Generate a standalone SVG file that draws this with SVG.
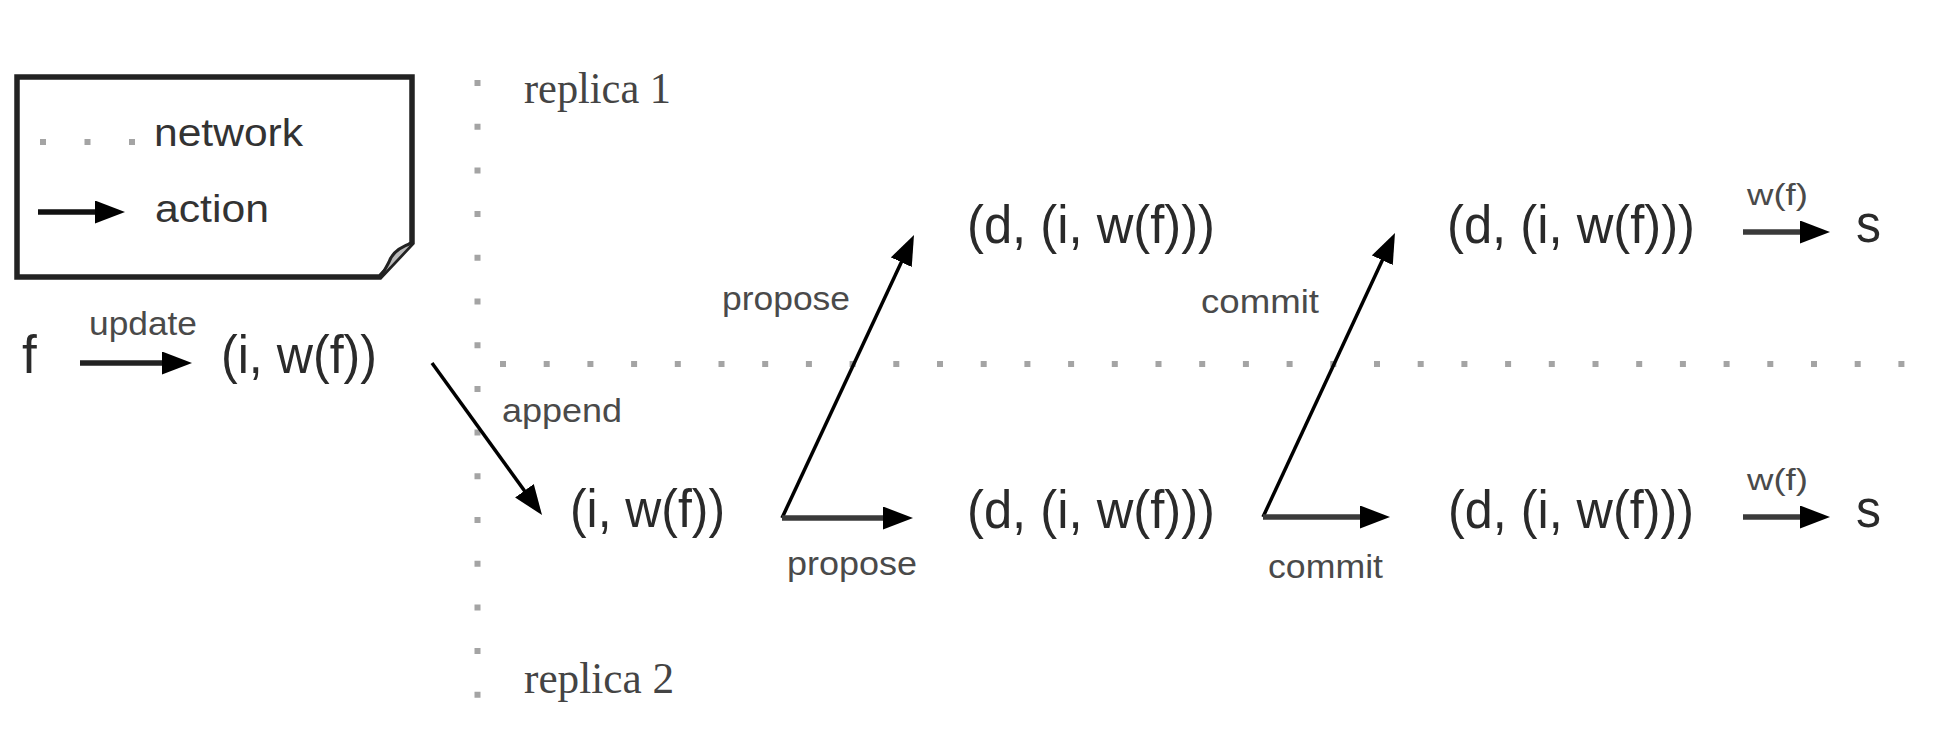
<svg xmlns="http://www.w3.org/2000/svg" width="1936" height="736" viewBox="0 0 1936 736">
<style>
.big{font-family:"Liberation Sans",Arial,sans-serif;font-size:53px;fill:#2a2a2a}
.lbl{font-family:"Liberation Sans",Arial,sans-serif;font-size:33px;fill:#4a4a4a}
.sm{font-family:"Liberation Sans",Arial,sans-serif;font-size:29px;fill:#4a4a4a}
.leg{font-family:"Liberation Sans",Arial,sans-serif;font-size:38px;fill:#333}
.rep{font-family:"Liberation Serif","Times New Roman",serif;font-size:44px;fill:#444}
.net{stroke:#a4a4a4;stroke-width:6;fill:none;stroke-dasharray:6 37.7}
.h{stroke:#3a3a3a;stroke-width:5.5;fill:none;marker-end:url(#ah)}
.d{stroke:#000;stroke-width:3.5;fill:none;marker-end:url(#ah)}
</style>
<defs>
<marker id="ah" markerUnits="userSpaceOnUse" markerWidth="30" markerHeight="23" viewBox="0 0 30 23" refX="17" refY="11.5" orient="auto">
<path d="M0,0 L30,11.5 L0,23 Z" fill="#000"/>
</marker>
</defs>
<rect width="1936" height="736" fill="#fff"/>

<g id="legend">
<path d="M17,77 H412 V243 L380,277 H17 Z" fill="#fff" stroke="#222" stroke-width="5.5"/>
<path d="M412,243 C400,247 392,253 389,262 C386,268 383,273 380,277" fill="#bbb" stroke="#222" stroke-width="3"/>
<line class="net" x1="40" y1="142" x2="136" y2="142" style="stroke-dasharray:6 38.5"/>
<text class="leg" x="154" y="146" textLength="149" lengthAdjust="spacingAndGlyphs">network</text>
<line class="h" x1="38" y1="212" x2="112" y2="212" style="stroke:#111"/>
<text class="leg" x="155" y="222" textLength="114" lengthAdjust="spacingAndGlyphs">action</text>
</g>

<g id="network">
<line class="net" x1="477.5" y1="80" x2="477.5" y2="700"/>
<line class="net" x1="500" y1="364" x2="1905" y2="364"/>
</g>

<g id="replica1-label"><text class="rep" x="524" y="103" textLength="147" lengthAdjust="spacingAndGlyphs">replica 1</text></g>
<g id="replica2-label"><text class="rep" x="524" y="693" textLength="150" lengthAdjust="spacingAndGlyphs">replica 2</text></g>

<g id="client-f"><text class="big" x="22" y="373">f</text></g>
<g id="client-entry"><text class="big" x="221" y="373" textLength="156" lengthAdjust="spacingAndGlyphs">(i, w(f))</text></g>
<g id="r2-entry"><text class="big" x="570" y="527" textLength="155" lengthAdjust="spacingAndGlyphs">(i, w(f))</text></g>
<g id="r1-proposed"><text class="big" x="967" y="243" textLength="248" lengthAdjust="spacingAndGlyphs">(d, (i, w(f)))</text></g>
<g id="r2-proposed"><text class="big" x="967" y="528" textLength="248" lengthAdjust="spacingAndGlyphs">(d, (i, w(f)))</text></g>
<g id="r1-committed"><text class="big" x="1447" y="243" textLength="248" lengthAdjust="spacingAndGlyphs">(d, (i, w(f)))</text></g>
<g id="r2-committed"><text class="big" x="1448" y="528" textLength="246" lengthAdjust="spacingAndGlyphs">(d, (i, w(f)))</text></g>
<g id="r1-state"><text class="big" x="1856" y="242" textLength="25" lengthAdjust="spacingAndGlyphs">s</text></g>
<g id="r2-state"><text class="big" x="1856" y="527" textLength="25" lengthAdjust="spacingAndGlyphs">s</text></g>

<g id="connectors">
<line class="h" x1="80" y1="363" x2="179" y2="363" style="stroke:#222"/>
<text class="lbl" x="89" y="335" textLength="108" lengthAdjust="spacingAndGlyphs">update</text>

<line class="d" x1="432" y1="363" x2="534.4" y2="504.5"/>
<text class="lbl" x="502" y="422" textLength="120" lengthAdjust="spacingAndGlyphs">append</text>

<line class="d" x1="782" y1="518" x2="908.5" y2="246.8"/>
<text class="lbl" x="722" y="310" textLength="128" lengthAdjust="spacingAndGlyphs">propose</text>
<line class="h" x1="782" y1="518" x2="900" y2="518"/>
<text class="lbl" x="787" y="575" textLength="130" lengthAdjust="spacingAndGlyphs">propose</text>

<line class="d" x1="1263" y1="517" x2="1389.5" y2="244.8"/>
<text class="lbl" x="1201" y="313" textLength="118" lengthAdjust="spacingAndGlyphs">commit</text>
<line class="h" x1="1263" y1="517" x2="1377" y2="517"/>
<text class="lbl" x="1268" y="578" textLength="115" lengthAdjust="spacingAndGlyphs">commit</text>

<line class="h" x1="1743" y1="232" x2="1817" y2="232"/>
<text class="sm" x="1747" y="205" textLength="61" lengthAdjust="spacingAndGlyphs">w(f)</text>
<line class="h" x1="1743" y1="517" x2="1817" y2="517"/>
<text class="sm" x="1747" y="490" textLength="61" lengthAdjust="spacingAndGlyphs">w(f)</text>
</g>
</svg>
